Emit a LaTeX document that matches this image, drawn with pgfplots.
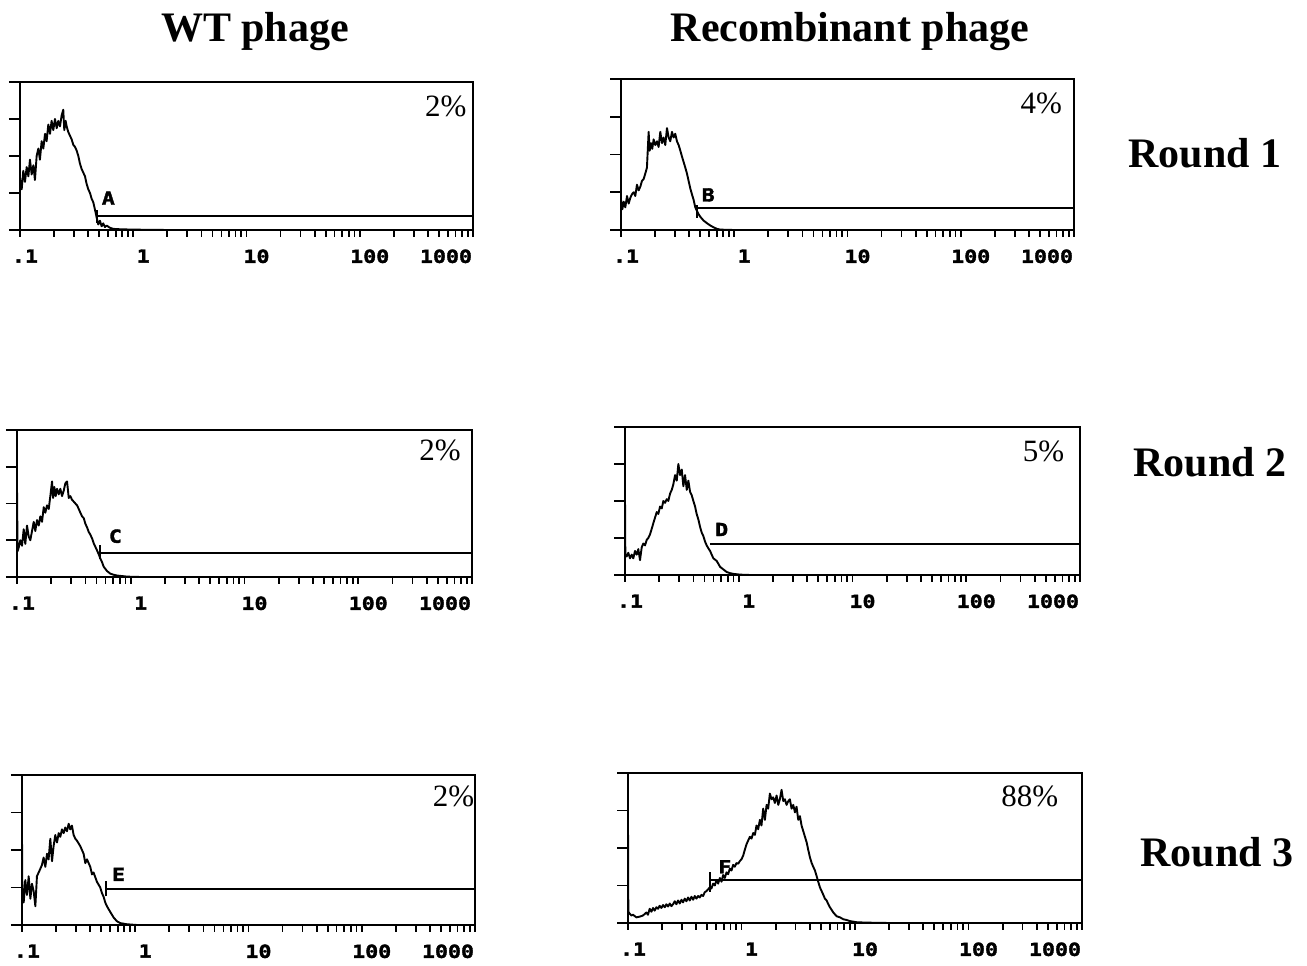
\documentclass[border=0pt]{standalone}
\usepackage{fontspec}
\setmainfont{Liberation Serif}
\newfontfamily\tickfont{DejaVu Sans Mono}[FakeStretch=1.2, BoldFeatures={FakeBold=2}]
\usepackage{pgfplots}
\pgfplotsset{compat=1.18}
\pgfplotsset{facs/.style={
  scale only axis, xmin=-1, xmax=3, ymin=0, ymax=4,
  axis line style={line width=2pt},
  every tick/.style={black, line width=1.7pt},
  tick align=outside,
  major tick length=11pt, minor tick length=7pt,
  ytick={0,1,2,3,4}, yticklabels={}, ytick pos=left,
  xtick={-1,0,1,2,3}, xtick pos=bottom,
  major x tick style={draw=none},
  minor xtick={-1,-0.699,-0.523,-0.398,-0.301,-0.222,-0.155,-0.097,-0.046,
    0,0.301,0.477,0.602,0.699,0.778,0.845,0.903,0.954,
    1,1.301,1.477,1.602,1.699,1.778,1.845,1.903,1.954,
    2,2.301,2.477,2.602,2.699,2.778,2.845,2.903,2.954,3},
  xticklabels={{\hspace*{10pt}.1},{\hspace*{20pt}1},{\hspace*{20pt}10},{\hspace*{20pt}100},{\hspace*{-54pt}1000}},
  xticklabel style={font=\tickfont\bfseries\fontsize{18}{18}\selectfont, yshift=-5pt},
  hist/.style={black, line width=1.9pt, line join=round, no marks},
  gate/.style={black, line width=1.8pt, no marks},
}}
\newcommand{\pct}{\fontsize{31}{31}\selectfont}
\newcommand{\gl}{\tickfont\bfseries\fontsize{18}{18}\selectfont}
\begin{document}
\begin{tikzpicture}
\useasboundingbox (0,0) rectangle (1307pt,966pt);
\node[font=\bfseries\fontsize{42}{42}\selectfont, anchor=base] at (255pt,924pt) {WT phage};
\node[font=\bfseries\fontsize{42}{42}\selectfont, anchor=base] at (850pt,924pt) {Recombinant phage};
\node[font=\bfseries\fontsize{42}{42}\selectfont, anchor=base] at (1205pt,798pt) {Round 1};
\node[font=\bfseries\fontsize{42}{42}\selectfont, anchor=base] at (1210pt,489pt) {Round 2};
\node[font=\bfseries\fontsize{42}{42}\selectfont, anchor=base] at (1217pt,99pt) {Round 3};

% ---------------- A ----------------
\begin{axis}[facs, at={(20pt,736pt)}, anchor=south west, width=453pt, height=148pt]
\addplot[hist] coordinates {(-1.000,1.40) (-0.985,1.10) (-0.971,1.60) (-0.956,1.30) (-0.941,1.70) (-0.926,1.45) (-0.912,1.90) (-0.897,1.50) (-0.882,1.75) (-0.868,1.35) (-0.853,2.00) (-0.838,2.20) (-0.824,1.90) (-0.809,2.40) (-0.794,2.20) (-0.779,2.60) (-0.765,2.40) (-0.750,2.85) (-0.735,2.60) (-0.721,2.95) (-0.706,2.70) (-0.691,3.00) (-0.676,2.75) (-0.662,2.95) (-0.647,2.80) (-0.632,3.10) (-0.618,3.25) (-0.609,2.70) (-0.597,2.95) (-0.588,2.80) (-0.574,2.65) (-0.559,2.55) (-0.544,2.45) (-0.529,2.30) (-0.515,2.25) (-0.500,2.15) (-0.485,2.00) (-0.471,1.80) (-0.456,1.65) (-0.441,1.55) (-0.426,1.45) (-0.412,1.25) (-0.397,1.10) (-0.382,1.00) (-0.368,0.85) (-0.353,0.75) (-0.338,0.55) (-0.324,0.35) (-0.309,0.15) (-0.294,0.25) (-0.279,0.10) (-0.265,0.18) (-0.250,0.08) (-0.235,0.12) (-0.206,0.06) (-0.176,0.03) (-0.118,0.02) (0.000,0.01) (0.300,0.00) (3.000,0.00)};
\addplot[gate] coordinates {(-0.32,0.38) (3,0.38)};
\addplot[gate] coordinates {(-0.32,0.18) (-0.32,0.55)};
\addplot[gate] coordinates {(3,0.20) (3,0.56)};
\node[font=\gl] at (-0.22,0.86) {A};
\node[font=\pct] at (2.76,3.35) {2\%};
\end{axis}

% ---------------- B ----------------
\begin{axis}[facs, at={(621pt,736pt)}, anchor=south west, width=453pt, height=151pt]
\addplot[hist] coordinates {(-1.000,0.80) (-0.988,0.55) (-0.976,0.75) (-0.962,0.60) (-0.947,0.90) (-0.932,0.70) (-0.918,0.85) (-0.903,0.95) (-0.888,1.00) (-0.874,0.90) (-0.859,1.20) (-0.844,1.05) (-0.829,1.15) (-0.815,1.30) (-0.800,1.35) (-0.785,1.50) (-0.771,1.65) (-0.756,2.60) (-0.747,2.10) (-0.735,2.30) (-0.724,2.15) (-0.712,2.40) (-0.697,2.25) (-0.682,2.35) (-0.668,2.20) (-0.653,2.60) (-0.638,2.30) (-0.624,2.45) (-0.609,2.25) (-0.594,2.70) (-0.579,2.45) (-0.565,2.35) (-0.550,2.60) (-0.535,2.45) (-0.521,2.55) (-0.506,2.35) (-0.491,2.25) (-0.476,2.10) (-0.462,1.95) (-0.447,1.80) (-0.432,1.65) (-0.418,1.50) (-0.403,1.30) (-0.388,1.10) (-0.374,0.95) (-0.359,0.80) (-0.344,0.60) (-0.329,0.50) (-0.315,0.42) (-0.300,0.35) (-0.271,0.25) (-0.241,0.18) (-0.212,0.12) (-0.182,0.07) (-0.153,0.03) (-0.124,0.01) (-0.006,0.00) (3.000,0.00)};
\addplot[gate] coordinates {(-0.33,0.58) (3,0.58)};
\addplot[gate] coordinates {(-0.33,0.32) (-0.33,0.66)};
\addplot[gate] coordinates {(3,0.32) (3,0.75)};
\node[font=\gl] at (-0.23,0.93) {B};
\node[font=\pct] at (2.71,3.35) {4\%};
\end{axis}

% ---------------- C ----------------
\begin{axis}[facs, at={(17pt,389pt)}, anchor=south west, width=455pt, height=147pt]
\addplot[hist] coordinates {(-1.000,2.45) (-0.995,0.70) (-0.985,0.80) (-0.971,1.00) (-0.956,0.85) (-0.941,1.30) (-0.927,0.90) (-0.912,1.40) (-0.897,1.10) (-0.883,1.00) (-0.868,1.25) (-0.853,1.50) (-0.839,1.25) (-0.824,1.55) (-0.809,1.40) (-0.795,1.65) (-0.780,1.50) (-0.765,1.90) (-0.751,1.75) (-0.736,1.95) (-0.721,1.85) (-0.707,2.20) (-0.692,2.60) (-0.683,2.15) (-0.672,2.45) (-0.660,2.20) (-0.648,2.40) (-0.633,2.25) (-0.619,2.40) (-0.604,2.20) (-0.589,2.35) (-0.575,2.55) (-0.560,2.60) (-0.545,2.15) (-0.531,2.20) (-0.516,2.10) (-0.501,2.05) (-0.487,2.00) (-0.472,1.95) (-0.457,1.85) (-0.443,1.75) (-0.428,1.65) (-0.413,1.60) (-0.399,1.45) (-0.384,1.35) (-0.370,1.23) (-0.355,1.15) (-0.340,1.05) (-0.326,0.92) (-0.311,0.82) (-0.296,0.72) (-0.282,0.62) (-0.267,0.50) (-0.252,0.40) (-0.238,0.28) (-0.208,0.16) (-0.179,0.09) (-0.150,0.06) (-0.120,0.04) (-0.091,0.03) (-0.032,0.01) (0.085,0.00) (3.000,0.00)};
\addplot[gate] coordinates {(-0.267,0.66) (3,0.66)};
\addplot[gate] coordinates {(-0.267,0.50) (-0.267,0.86)};
\addplot[gate] coordinates {(3,0.55) (3,0.90)};
\node[font=\gl] at (-0.135,1.11) {C};
\node[font=\pct] at (2.72,3.45) {2\%};
\end{axis}

% ---------------- D ----------------
\begin{axis}[facs, at={(625pt,391pt)}, anchor=south west, width=455pt, height=148pt]
\addplot[hist] coordinates {(-1.000,2.10) (-0.997,0.55) (-0.985,0.50) (-0.971,0.60) (-0.956,0.45) (-0.941,0.55) (-0.927,0.45) (-0.912,0.65) (-0.897,0.55) (-0.883,0.70) (-0.868,0.40) (-0.853,0.75) (-0.839,0.85) (-0.824,0.80) (-0.809,0.95) (-0.795,1.00) (-0.780,1.10) (-0.765,1.25) (-0.751,1.40) (-0.736,1.55) (-0.721,1.70) (-0.707,1.65) (-0.692,1.85) (-0.677,1.80) (-0.663,2.00) (-0.648,1.95) (-0.633,2.05) (-0.619,2.00) (-0.604,2.20) (-0.589,2.30) (-0.575,2.45) (-0.560,2.70) (-0.545,2.55) (-0.531,3.00) (-0.516,2.70) (-0.501,2.85) (-0.487,2.40) (-0.472,2.70) (-0.457,2.30) (-0.443,2.55) (-0.428,2.25) (-0.413,2.15) (-0.399,2.00) (-0.384,1.85) (-0.370,1.65) (-0.355,1.50) (-0.340,1.30) (-0.326,1.15) (-0.311,1.05) (-0.296,0.90) (-0.282,0.80) (-0.267,0.72) (-0.252,0.65) (-0.238,0.55) (-0.223,0.45) (-0.194,0.38) (-0.164,0.22) (-0.135,0.15) (-0.106,0.08) (-0.076,0.05) (-0.047,0.03) (0.012,0.01) (0.100,0.00) (3.000,0.00)};
\addplot[gate] coordinates {(-0.252,0.84) (3,0.84)};
\addplot[gate] coordinates {(3,0.63) (3,1.04)};
\node[font=\gl] at (-0.15,1.23) {D};
\node[font=\pct] at (2.68,3.33) {5\%};
\end{axis}

% ---------------- E ----------------
\begin{axis}[facs, at={(22pt,41pt)}, anchor=south west, width=453pt, height=150pt]
\addplot[hist] coordinates {(-1.000,2.35) (-0.997,1.00) (-0.985,0.60) (-0.971,1.20) (-0.956,0.80) (-0.941,1.30) (-0.926,0.70) (-0.912,1.10) (-0.897,0.90) (-0.882,0.50) (-0.868,1.30) (-0.853,1.40) (-0.838,1.50) (-0.824,1.60) (-0.809,1.80) (-0.794,1.55) (-0.779,1.90) (-0.765,1.75) (-0.750,2.30) (-0.735,1.70) (-0.721,2.10) (-0.706,2.40) (-0.691,2.20) (-0.676,2.45) (-0.662,2.35) (-0.647,2.55) (-0.632,2.45) (-0.618,2.60) (-0.603,2.50) (-0.588,2.70) (-0.574,2.55) (-0.559,2.65) (-0.544,2.40) (-0.529,2.30) (-0.515,2.25) (-0.485,2.10) (-0.456,1.90) (-0.441,1.65) (-0.426,1.75) (-0.397,1.55) (-0.382,1.35) (-0.368,1.40) (-0.338,1.15) (-0.309,1.00) (-0.294,0.85) (-0.279,0.75) (-0.265,0.60) (-0.250,0.50) (-0.221,0.35) (-0.191,0.20) (-0.162,0.10) (-0.132,0.05) (-0.074,0.02) (0.015,0.00) (3.000,0.00)};
\addplot[gate] coordinates {(-0.256,0.96) (3,0.96)};
\addplot[gate] coordinates {(-0.256,0.76) (-0.256,1.16)};
\addplot[gate] coordinates {(3,0.80) (3,1.10)};
\node[font=\gl] at (-0.147,1.35) {E};
\node[font=\pct] at (2.81,3.42) {2\%};
\end{axis}

% ---------------- F ----------------
\begin{axis}[facs, at={(628pt,43pt)}, anchor=south west, width=454pt, height=150pt]
\addplot[hist] coordinates {(-1.000,2.65) (-0.997,0.30) (-0.985,0.25) (-0.971,0.20) (-0.956,0.22) (-0.926,0.15) (-0.897,0.17) (-0.868,0.20) (-0.838,0.28) (-0.824,0.22) (-0.809,0.38) (-0.794,0.30) (-0.779,0.40) (-0.765,0.33) (-0.750,0.42) (-0.735,0.38) (-0.721,0.46) (-0.706,0.40) (-0.691,0.48) (-0.676,0.42) (-0.662,0.50) (-0.647,0.44) (-0.632,0.52) (-0.618,0.45) (-0.603,0.50) (-0.588,0.58) (-0.574,0.50) (-0.559,0.60) (-0.544,0.52) (-0.529,0.62) (-0.515,0.55) (-0.500,0.65) (-0.485,0.58) (-0.471,0.68) (-0.456,0.60) (-0.441,0.70) (-0.426,0.62) (-0.412,0.72) (-0.397,0.65) (-0.382,0.72) (-0.368,0.68) (-0.353,0.75) (-0.338,0.72) (-0.324,0.82) (-0.309,0.85) (-0.294,0.90) (-0.279,0.95) (-0.265,0.92) (-0.250,1.05) (-0.235,1.00) (-0.221,1.15) (-0.206,1.05) (-0.191,1.20) (-0.176,1.10) (-0.162,1.28) (-0.147,1.20) (-0.132,1.35) (-0.118,1.30) (-0.103,1.45) (-0.088,1.40) (-0.074,1.55) (-0.059,1.50) (-0.044,1.60) (-0.029,1.58) (-0.015,1.65) (0.000,1.70) (0.015,1.80) (0.029,1.95) (0.044,2.10) (0.059,2.20) (0.074,2.30) (0.088,2.25) (0.103,2.40) (0.118,2.35) (0.132,2.60) (0.147,2.50) (0.162,2.75) (0.176,2.60) (0.191,3.05) (0.206,2.75) (0.221,3.15) (0.235,3.05) (0.250,3.45) (0.265,3.30) (0.279,3.35) (0.294,3.20) (0.309,3.40) (0.324,3.15) (0.338,3.30) (0.353,3.55) (0.368,3.25) (0.382,3.30) (0.397,3.15) (0.412,3.25) (0.426,3.30) (0.441,3.05) (0.456,3.15) (0.471,2.95) (0.485,3.10) (0.500,2.75) (0.515,2.85) (0.529,2.60) (0.544,2.45) (0.559,2.30) (0.574,2.15) (0.588,1.95) (0.603,1.75) (0.618,1.60) (0.632,1.50) (0.647,1.40) (0.662,1.25) (0.676,1.10) (0.691,0.95) (0.706,0.85) (0.721,0.75) (0.735,0.65) (0.750,0.60) (0.765,0.50) (0.779,0.42) (0.794,0.35) (0.809,0.28) (0.838,0.18) (0.868,0.15) (0.897,0.10) (0.926,0.08) (0.956,0.05) (1.015,0.02) (1.103,0.01) (1.300,0.00) (3.000,0.00)};
\addplot[gate] coordinates {(-0.279,1.14) (3,1.14)};
\addplot[gate] coordinates {(-0.279,0.83) (-0.279,1.37)};
\addplot[gate] coordinates {(3,1.03) (3,1.24)};
\node[font=\gl] at (-0.147,1.50) {F};
\node[font=\pct] at (2.54,3.37) {88\%};
\end{axis}
\end{tikzpicture}
\end{document}
